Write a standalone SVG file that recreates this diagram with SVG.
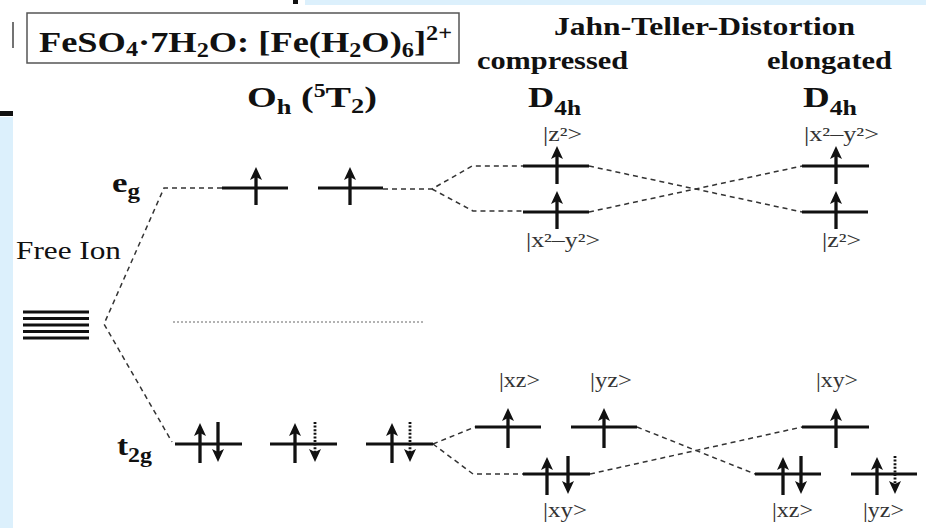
<svg xmlns="http://www.w3.org/2000/svg" width="926" height="528" viewBox="0 0 926 528">
<style>
.tb{font-family:"Liberation Serif","Times New Roman",serif;font-weight:bold;fill:#111}
.tr{font-family:"Liberation Serif","Times New Roman",serif;fill:#111}
.lab{font-family:"Liberation Serif","Times New Roman",serif;font-size:20px;fill:#333}
.lvl{stroke:#111;stroke-width:2.8;fill:none}
.up{stroke:#111;stroke-width:3.3;fill:none;marker-end:url(#head)}
.dn{stroke:#111;stroke-width:3.3;fill:none;marker-end:url(#head)}
.dd{stroke:#111;stroke-width:2.8;stroke-dasharray:2,1.6;fill:none;marker-end:url(#head)}
.con{stroke:#333;stroke-width:1.5;stroke-dasharray:5,4;fill:none}
.bary{stroke:#666;stroke-width:1;stroke-dasharray:2,2;fill:none}
</style>
<defs>
<marker id="head" viewBox="0 0 13 12" refX="8" refY="6" markerWidth="13" markerHeight="12" markerUnits="userSpaceOnUse" orient="auto">
<path d="M0,0 L13,6 L0,12 L3,6 z" fill="#111"/>
</marker>
</defs>
<rect x="0" y="0" width="926" height="528" fill="#fff"/>
<rect x="305" y="0" width="621" height="5" fill="#dcf0fc"/>
<rect x="0" y="117" width="13" height="411" fill="#dcf0fc"/>
<rect x="0" y="111" width="13" height="5" fill="#111"/>
<rect x="293" y="0" width="5" height="4" fill="#111"/>
<line x1="13" y1="22" x2="13" y2="48" stroke="#444" stroke-width="1.5"/>

<g id="title">
<rect x="27" y="13" width="432" height="50" fill="#fff" stroke="#555" stroke-width="1.5"/>
<text class="tb" x="39" y="52" font-size="30" textLength="413" lengthAdjust="spacingAndGlyphs">FeSO<tspan font-size="20" dy="4">4</tspan><tspan dy="-4">·7H</tspan><tspan font-size="20" dy="5">2</tspan><tspan dy="-5">O: [Fe(H</tspan><tspan font-size="20" dy="5">2</tspan><tspan dy="-5">O)</tspan><tspan font-size="20" dy="5">6</tspan><tspan dy="-5">]</tspan><tspan font-size="20" dy="-12">2+</tspan></text>
</g>

<g id="headings">
<text class="tb" x="554" y="35" font-size="26" textLength="301" lengthAdjust="spacingAndGlyphs">Jahn-Teller-Distortion</text>
<text class="tb" x="477" y="69" font-size="26" textLength="151" lengthAdjust="spacingAndGlyphs">compressed</text>
<text class="tb" x="767" y="69" font-size="26" textLength="125" lengthAdjust="spacingAndGlyphs">elongated</text>
<text class="tb" x="247" y="107" font-size="29" textLength="130" lengthAdjust="spacingAndGlyphs">O<tspan font-size="20" dy="7">h</tspan><tspan dy="-7"> (</tspan><tspan font-size="18" dy="-10">5</tspan><tspan dy="10">T</tspan><tspan font-size="20" dy="6">2</tspan><tspan dy="-6">)</tspan></text>
<text class="tb" x="528" y="107" font-size="30" textLength="53" lengthAdjust="spacingAndGlyphs">D<tspan font-size="21" dy="8">4h</tspan></text>
<text class="tb" x="803" y="107" font-size="30" textLength="54" lengthAdjust="spacingAndGlyphs">D<tspan font-size="21" dy="8">4h</tspan></text>
</g>

<g id="free-ion">
<text class="tr" x="16" y="259" font-size="26" textLength="105" lengthAdjust="spacingAndGlyphs">Free Ion</text>
<path class="lvl" stroke-width="2.5" d="M23,312H89M23,318.5H89M23,325H89M23,331.5H89M23,338H89"/>
</g>

<g id="connectors">
<path class="con" d="M222,188 H164 L104,324 L172,442"/>
<path class="bary" d="M173,322 H425"/>
<path class="con" d="M383,189 H432 L472,166 H523"/>
<path class="con" d="M432,189 L473,211 H523"/>
<path class="con" d="M589,166 L802,212"/>
<path class="con" d="M589,212 L802,166"/>
<path class="con" d="M433,444 L475,427"/>
<path class="con" d="M433,444 L473,474 H523"/>
<path class="con" d="M637,427 L755,474"/>
<path class="con" d="M590,474 L802,427"/>
</g>

<g id="oh-eg">
<text class="tb" x="112" y="192" font-size="28" textLength="28" lengthAdjust="spacingAndGlyphs">e<tspan font-size="20" dy="6">g</tspan></text>
<path class="lvl" d="M222,188H288M318,188H383"/>
<path class="up" d="M256,205V172"/>
<path class="up" d="M350,205V172"/>
</g>

<g id="oh-t2g">
<text class="tb" x="117" y="455" font-size="28" textLength="35" lengthAdjust="spacingAndGlyphs">t<tspan font-size="20" dy="7">2g</tspan></text>
<path class="lvl" d="M175,444H242M270,444H337M366,444H433"/>
<path class="up" d="M200,463V428"/>
<path class="dn" d="M218,422V457"/>
<path class="up" d="M295,463V428"/>
<path class="dd" d="M315,422V457"/>
<path class="up" d="M392,463V428"/>
<path class="dd" d="M410,422V457"/>
</g>

<g id="comp-eg">
<path class="lvl" d="M523,166H589M523,212H589"/>
<path class="up" d="M557,184V151"/>
<path class="up" d="M557,229V196"/>
<text class="lab" x="543" y="141" textLength="39" lengthAdjust="spacingAndGlyphs">|z²&gt;</text>
<text class="lab" x="526" y="247" textLength="74" lengthAdjust="spacingAndGlyphs">|x²–y²&gt;</text>
</g>

<g id="elong-eg">
<path class="lvl" d="M802,166H869M802,212H868"/>
<path class="up" d="M836,184V151"/>
<path class="up" d="M836,229V196"/>
<text class="lab" x="804" y="141" textLength="75" lengthAdjust="spacingAndGlyphs">|x²–y²&gt;</text>
<text class="lab" x="822" y="247" textLength="39" lengthAdjust="spacingAndGlyphs">|z²&gt;</text>
</g>

<g id="comp-t2g">
<path class="lvl" d="M475,427H541M571,427H637M523,474H590"/>
<path class="up" d="M508,448V413"/>
<path class="up" d="M604,448V413"/>
<path class="up" d="M547,495V462"/>
<path class="dn" d="M568,456V489"/>
<text class="lab" x="499" y="387" textLength="41" lengthAdjust="spacingAndGlyphs">|xz&gt;</text>
<text class="lab" x="590" y="387" textLength="42" lengthAdjust="spacingAndGlyphs">|yz&gt;</text>
<text class="lab" x="543" y="517" textLength="44" lengthAdjust="spacingAndGlyphs">|xy&gt;</text>
</g>

<g id="elong-t2g">
<path class="lvl" d="M802,427H869M755,474H821M851,474H917"/>
<path class="up" d="M836,448V413"/>
<path class="up" d="M783,495V462"/>
<path class="dn" d="M801,456V489"/>
<path class="up" d="M877,495V462"/>
<path class="dd" d="M895,456V489"/>
<text class="lab" x="816" y="387" textLength="42" lengthAdjust="spacingAndGlyphs">|xy&gt;</text>
<text class="lab" x="772" y="517" textLength="41" lengthAdjust="spacingAndGlyphs">|xz&gt;</text>
<text class="lab" x="863" y="517" textLength="41" lengthAdjust="spacingAndGlyphs">|yz&gt;</text>
</g>
</svg>
